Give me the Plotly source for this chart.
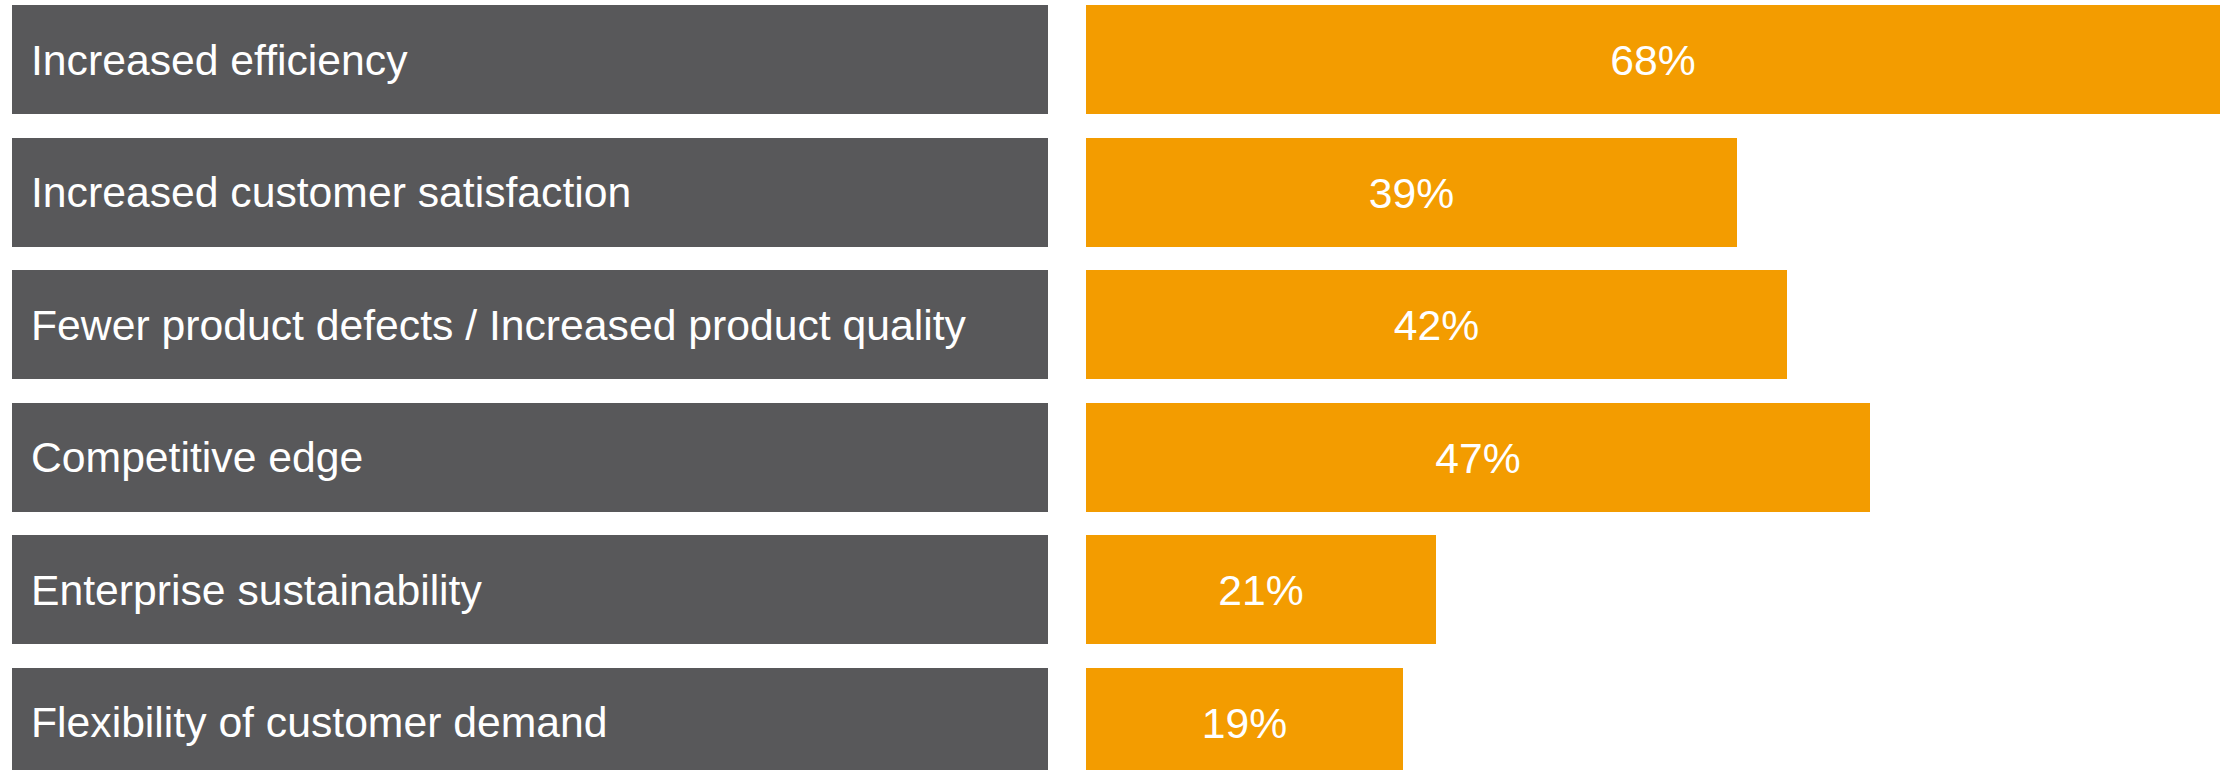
import plotly.graph_objects as go

categories = [
    "Increased efficiency",
    "Increased customer satisfaction",
    "Fewer product defects / Increased product quality",
    "Competitive edge",
    "Enterprise sustainability",
    "Flexibility of customer demand",
]
values = [68, 39, 42, 47, 21, 19]

GREY = "#58585A"
ORANGE = "#F39C00"
FONT = "Liberation Sans, Arial, sans-serif"
W, H = 2227, 770
FS = 42.7

fig = go.Figure()

# left label boxes
fig.add_trace(go.Bar(
    y=categories, x=[1] * len(categories), orientation="h",
    marker=dict(color=GREY, line=dict(width=0)),
    width=0.823, xaxis="x", yaxis="y", hoverinfo="skip", showlegend=False,
))

# right value bars
fig.add_trace(go.Bar(
    y=categories, x=values, orientation="h",
    marker=dict(color=ORANGE, line=dict(width=0)),
    width=0.823, xaxis="x2", yaxis="y",
    text=[f"{v}%" for v in values], textposition="inside",
    insidetextanchor="middle", constraintext="none",
    textfont=dict(family=FONT, size=FS, color="white"),
    hoverinfo="skip", showlegend=False,
))

annotations = [
    dict(x=0, y=c, xref="x", yref="y", text=c, showarrow=False,
         xanchor="left", yanchor="middle", xshift=17,
         font=dict(family=FONT, size=FS, color="white"))
    for c in categories
]

ymax = (H - 59.86) / 132.46
ymin = -59.86 / 132.46

fig.update_layout(
    width=W, height=H, margin=dict(l=0, r=0, t=0, b=0),
    paper_bgcolor="white", plot_bgcolor="white",
    bargap=0, annotations=annotations,
    xaxis=dict(domain=[12 / W, 1048 / W], range=[0, 1], visible=False, fixedrange=True),
    xaxis2=dict(domain=[1086 / W, 1], range=[0, (W - 1086) / 16.68],
                visible=False, fixedrange=True),
    yaxis=dict(range=[ymax, ymin], visible=False, fixedrange=True),
)

fig.write_html("out.html", config={"displayModeBar": False})
